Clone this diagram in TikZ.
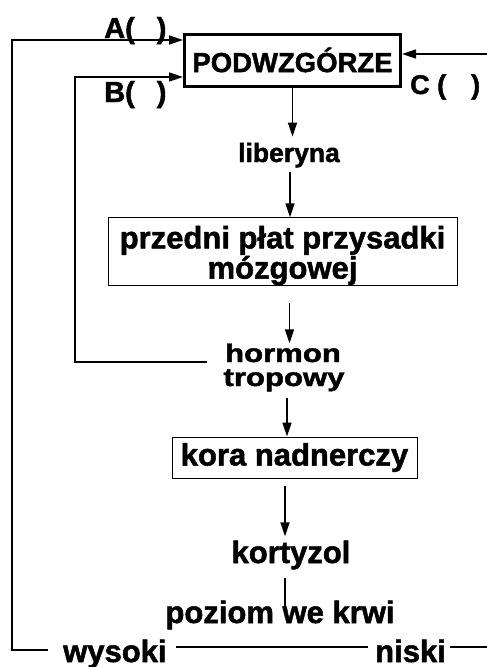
\documentclass[tikz,border=0pt]{standalone}
\usepackage{fontspec}
\setmainfont{Liberation Sans}[BoldFeatures={FakeBold=1.6}]
\usetikzlibrary{arrows.meta,calc}
\begin{document}
\begin{tikzpicture}[x=1pt,y=-1pt,
  conn/.style={line width=1.6pt, -{Triangle[length=14pt,width=9pt]}},
  plain/.style={line width=1.6pt},
  big/.style={font=\fontsize{31}{27}\selectfont\bfseries, inner sep=0pt},
  mid/.style={font=\fontsize{26.5}{30}\selectfont\bfseries, inner sep=0pt},
  lbl/.style={font=\fontsize{29}{30}\selectfont\bfseries, inner sep=0pt},
  squash/.style={font=\fontsize{25.5}{27}\selectfont\bfseries, inner sep=0pt},
  thinbox/.style={draw, line width=1pt, inner sep=0pt}
]
\fill[white] (0,0) rectangle (487,667);
\useasboundingbox (0,0) rectangle (487,667);

% nodes
\node[draw, line width=3pt, minimum width=216pt, minimum height=52pt, inner sep=0pt,
      font=\fontsize{27.5}{30}\selectfont\bfseries] (pod) at (292.5,60) {PODWZGÓRZE};
\node[lbl, anchor=base west] (A) at (104,38) {A(\hspace{22pt})};
\node[lbl, anchor=base west] (B) at (104,102) {B(\hspace{22pt})};
\node[lbl, anchor=base west, font=\fontsize{27}{28}\selectfont\bfseries] (C) at (410,94) {C\;(\hspace{25pt})};
\node[mid, anchor=base] (lib) at (289,162) {liberyna};
\node[thinbox, big, align=center, minimum width=349pt, minimum height=67pt] (pp) at (282.5,251.5)
  {\rule{0pt}{30.6pt}przedni płat przysadki\\mózgowej};
\node[squash, anchor=base] (hor) at (283,362) {\scalebox{1.22}[1]{hormon}};
\node[squash, anchor=base] (tro) at (284,386) {\scalebox{1.22}[1]{tropowy}};
\node[thinbox, big, minimum width=245pt, minimum height=41pt] (kora) at (294.5,457.5) {kora nadnerczy};
\node[big, anchor=base] (kort) at (291,563) {kortyzol};
\node[big, anchor=base] (poz) at (280,623) {poziom we krwi};
\node[big, anchor=base west] (wys) at (63,662) {wysoki};
\node[big, anchor=base west] (nis) at (375,662) {niski};

% free ends
\coordinate (aEnd) at (48,650);
\coordinate (aCorner) at (12,40);
\coordinate (bCorner) at (75,77);
\coordinate (cStart) at (487,54);
\coordinate (nEnd) at (487,647);

% connectors
\draw[conn] (aEnd) -| (aCorner) -- (aCorner -| pod.west);
\draw[conn] ([xshift=-18pt]hor.base west) -| (bCorner) -- (bCorner -| pod.west);
\draw[conn] (cStart) -- (cStart -| pod.east);
\draw[conn, shorten >=6pt] (pod.south) -- (pod.south |- lib.north);
\draw[conn, shorten <=4pt] ([xshift=1pt]lib.south) -- ([xshift=1pt]lib.south |- pp.north);
\draw[conn, shorten <=17pt] ([xshift=7pt]pp.south) -- ([xshift=7pt]pp.south |- hor.north);
\draw[conn, shorten <=7pt] ([xshift=3pt]tro.south) -- ([xshift=3pt]tro.south |- kora.north);
\draw[conn, shorten <=7pt, shorten >=4pt] ([xshift=-6pt]kort.north |- kora.south) -- ([xshift=-6pt]kort.north);
\draw[plain, shorten <=8pt] ([xshift=-6pt]kort.south) -- ([xshift=-6pt,yshift=16pt]kort.south |- poz.base);
\draw[plain] ([xshift=9pt,yshift=15pt]wys.base east) -- ([xshift=-7pt,yshift=15pt]nis.base west);
\draw[plain] ([xshift=4pt,yshift=15pt]nis.base east) -- (nEnd);
\end{tikzpicture}
\end{document}
